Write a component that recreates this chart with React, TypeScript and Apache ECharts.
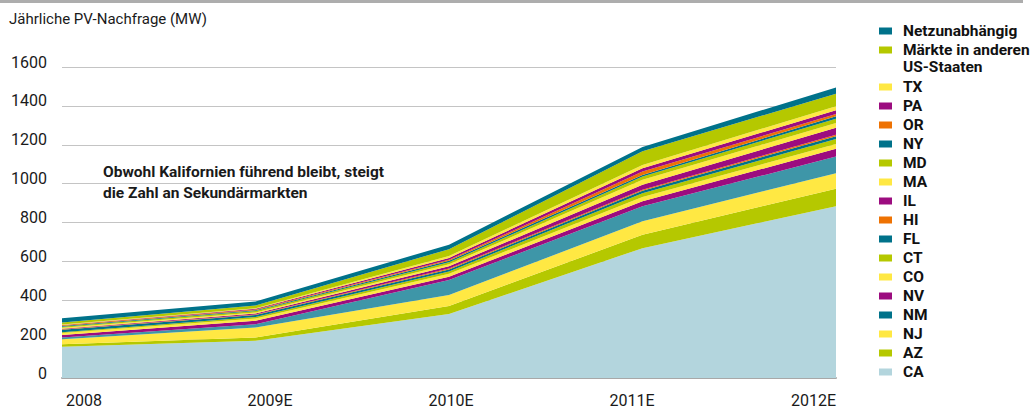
import React, { useEffect, useRef } from "react";
import * as echarts from "echarts";

const years = ["2008", "2009E", "2010E", "2011E", "2012E"];
const yTicks = [0, 200, 400, 600, 800, 1000, 1200, 1400, 1600];

const CA = [161, 192, 329, 668, 884];
const AZ = [12, 17, 41, 69, 90];
const NJ = [26, 51, 57, 69, 80];
const NM = [10, 17, 77, 77, 85];
const NV = [12, 17, 17, 26, 40];
const CO = [10, 12, 15, 22, 25];
const CT = [5, 8, 12, 20, 25];
const FL = [12, 10, 10, 12, 15];
const HI = [3, 3, 5, 5, 8];
const IL = [3, 5, 12, 26, 35];
const MA = [5, 5, 10, 26, 25];
const MD = [5, 8, 10, 17, 22];
const NY = [3, 4, 8, 8, 12];
const OR = [4, 4, 5, 17, 12];
const PA = [2, 3, 10, 17, 20];
const TX = [2, 3, 10, 17, 20];
const OTHER = [10, 14, 35, 70, 65];
const OFFGRID = [22, 20, 23, 23, 32];

const LIGHTBLUE = "#b3d5dd";
const LIME = "#b5c800";
const YELLOW = "#ffe843";
const TEAL = "#00728a";
const MIDTEAL = "#3e96a8";
const PURPLE = "#9c0c7f";
const ORANGE = "#ee7203";

const OTHER_NAME = "Märkte in anderen US-Staaten";
const OFFGRID_NAME = "Netzunabhängig";

// bottom to top
const seriesDefs = [
  { name: "CA", data: CA, area: LIGHTBLUE, legend: LIGHTBLUE },
  { name: "AZ", data: AZ, area: LIME, legend: LIME },
  { name: "NJ", data: NJ, area: YELLOW, legend: YELLOW },
  { name: "NM", data: NM, area: MIDTEAL, legend: TEAL },
  { name: "NV", data: NV, area: PURPLE, legend: PURPLE },
  { name: "CO", data: CO, area: YELLOW, legend: YELLOW },
  { name: "CT", data: CT, area: LIME, legend: LIME },
  { name: "FL", data: FL, area: TEAL, legend: TEAL },
  { name: "HI", data: HI, area: ORANGE, legend: ORANGE },
  { name: "IL", data: IL, area: PURPLE, legend: PURPLE },
  { name: "MA", data: MA, area: YELLOW, legend: YELLOW },
  { name: "MD", data: MD, area: LIME, legend: LIME },
  { name: "NY", data: NY, area: TEAL, legend: TEAL },
  { name: "OR", data: OR, area: ORANGE, legend: ORANGE },
  { name: "PA", data: PA, area: PURPLE, legend: PURPLE },
  { name: "TX", data: TX, area: YELLOW, legend: YELLOW },
  { name: OTHER_NAME, data: OTHER, area: LIME, legend: LIME },
  { name: OFFGRID_NAME, data: OFFGRID, area: TEAL, legend: TEAL },
];

const FONT = "Roboto, 'Liberation Sans', sans-serif";

export default function App() {
  const ref = useRef<HTMLDivElement>(null);
  useEffect(() => {
    document.body.style.margin = "0";
    const chart = echarts.init(ref.current!, null, { renderer: "svg" });
    const stateNames = seriesDefs
      .filter((s) => s.name !== OTHER_NAME && s.name !== OFFGRID_NAME)
      .map((s) => s.name)
      .reverse();
    const legendText = {
      fontFamily: FONT,
      fontWeight: "bold",
      fontSize: 15.5,
      color: "#111",
      lineHeight: 18,
      padding: [0, 0, 0, 6],
    };
    const option: any = {
      animation: false,
      textStyle: { fontFamily: FONT },
      title: {
        text: "Jährliche PV-Nachfrage (MW)",
        left: 9,
        top: 10,
        padding: 0,
        textStyle: {
          fontFamily: FONT,
          fontWeight: "normal",
          fontSize: 15,
          color: "#1a1a1a",
          lineHeight: 18,
        },
      },
      grid: { left: 62, right: 197, top: 67, bottom: 32, containLabel: false },
      legend: [
        {
          data: [OFFGRID_NAME, OTHER_NAME],
          orient: "vertical",
          left: 879,
          top: 22,
          padding: 0,
          itemGap: 1,
          itemWidth: 13,
          itemHeight: 7,
          icon: "rect",
          selectedMode: false,
          formatter: (n: string) => (n === OTHER_NAME ? "Märkte in anderen" : n),
          textStyle: legendText,
        },
        {
          data: stateNames,
          orient: "vertical",
          left: 879,
          top: 78,
          padding: 0,
          itemGap: 1,
          itemWidth: 13,
          itemHeight: 7,
          icon: "rect",
          selectedMode: false,
          textStyle: legendText,
        },
      ],
      graphic: [
        {
          type: "rect",
          shape: { x: 0, y: 0, width: 1023, height: 3 },
          style: { fill: "#adadad" },
          silent: true,
        },
        {
          type: "text",
          x: 903,
          y: 67,
          style: {
            text: "US-Staaten",
            font: `bold 15.5px ${FONT}`,
            fill: "#111",
            verticalAlign: "middle",
          },
          silent: true,
        },
        {
          type: "text",
          x: 103,
          y: 161,
          style: {
            text: "Obwohl Kalifornien führend bleibt, steigt\ndie Zahl an Sekundärmarkten",
            font: `bold 15.5px ${FONT}`,
            fill: "#1a1a1a",
            lineHeight: 21,
            verticalAlign: "top",
          },
          silent: true,
        },
      ],
      xAxis: {
        type: "category",
        data: years,
        boundaryGap: false,
        axisLine: { show: true, lineStyle: { color: "#a8a8a8", width: 2 } },
        axisTick: { show: false },
        splitLine: { show: false },
        axisLabel: {
          margin: 14,
          fontSize: 16,
          color: "#1a1a1a",
          fontFamily: FONT,
          alignMinLabel: "left",
          alignMaxLabel: "right",
          formatter: (v: string, i: number) => `{s${i}|${v}}`,
          rich: {
            s0: { fontSize: 16, fontFamily: FONT, color: "#1a1a1a", padding: [0, 0, 0, 4] },
            s1: { fontSize: 16, fontFamily: FONT, color: "#1a1a1a", padding: [0, 0, 0, 29] },
            s2: { fontSize: 16, fontFamily: FONT, color: "#1a1a1a", padding: [0, 0, 0, 4] },
            s3: { fontSize: 16, fontFamily: FONT, color: "#1a1a1a", padding: [0, 21, 0, 0] },
            s4: { fontSize: 16, fontFamily: FONT, color: "#1a1a1a" },
          },
        },
      },
      yAxis: {
        type: "value",
        min: yTicks[0],
        max: yTicks[yTicks.length - 1],
        interval: yTicks[1] - yTicks[0],
        axisLine: { show: false },
        axisTick: { show: false },
        splitLine: { show: true, lineStyle: { color: "#c4c4c4", width: 1 } },
        axisLabel: {
          margin: 15,
          fontSize: 16,
          color: "#1a1a1a",
          fontFamily: FONT,
          verticalAlign: "bottom",
          lineHeight: 10,
          formatter: (v: number) => String(v),
        },
      },
      series: seriesDefs.map((s) => ({
        name: s.name,
        type: "line",
        stack: "total",
        data: s.data,
        symbol: "none",
        silent: true,
        lineStyle: { width: 0, color: s.area },
        itemStyle: { color: s.legend },
        areaStyle: { color: s.area, opacity: 1 },
        emphasis: { disabled: true },
      })),
    };
    chart.setOption(option);
    return () => chart.dispose();
  }, []);
  return (
    <div
      ref={ref}
      style={{ width: 1033, height: 410, position: "absolute", left: 0, top: 0 }}
    />
  );
}
